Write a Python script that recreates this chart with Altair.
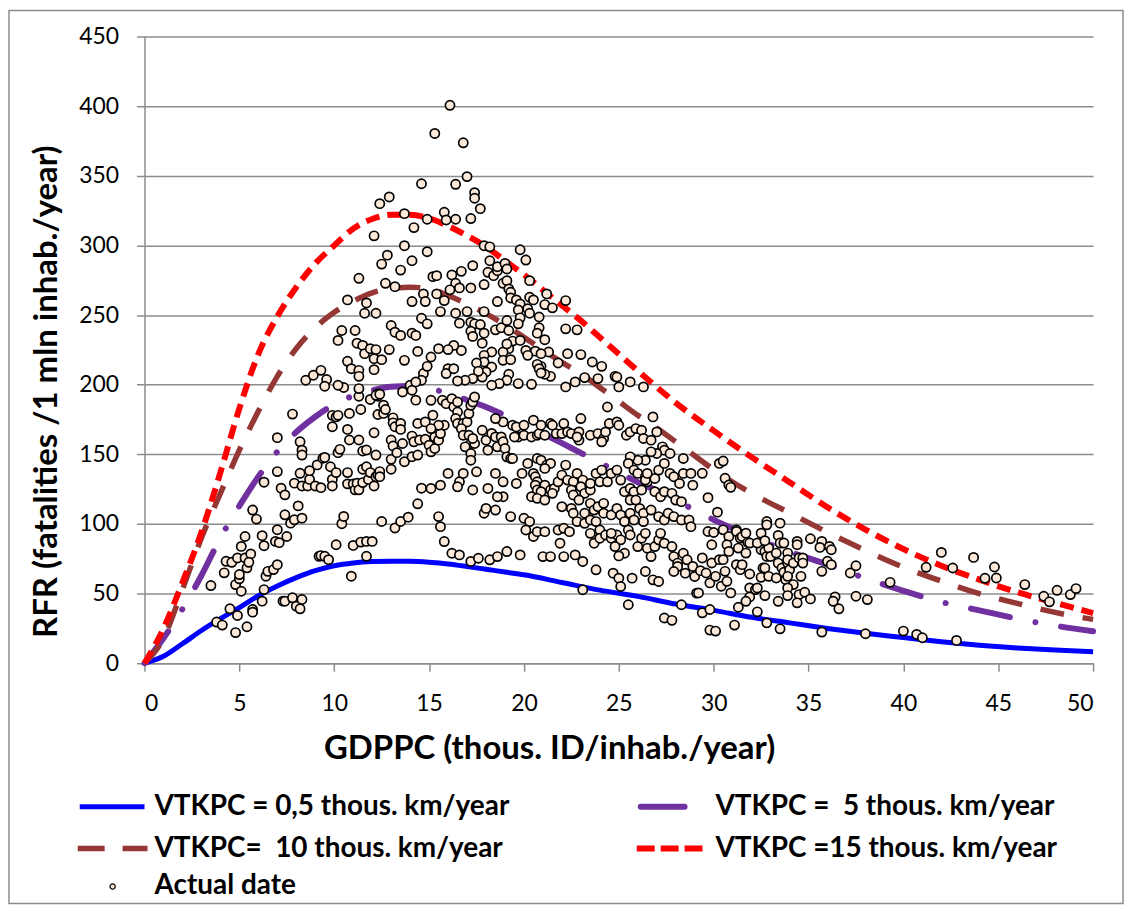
import altair as alt
import pandas as pd

# ---------------- model curves ----------------
curve_x_blue = [0,1,2,3,4,5,6,7,8,9,10,11,12,13,14,15,16,17,18,19,20,22,24,26,28,30,32,34,36,38,40,42,44,46,48,50]
curve_y_blue = [0,5,14,23.5,32,40,48.5,55.5,61.5,66.5,70,72,73,73.3,73.2,72.5,71.3,69.5,67.5,65.5,63.5,58,52.5,48,42.5,38,33,29,25,21.5,18.5,15.5,13,11,9.5,8.3]

curve_x_purple = [0,1,2,3,4,5,6,7,8,9,10,11,12,13,14,15,16,17,18,19,20,21,22,23,24,25,26,27,28,29,30,32,34,36,38,40,42,44,46,48,50]
curve_y_purple = [0,18,39,63,90,113,134,152,166,177,186,192,196,198.5,199,197,194,189,184,178,172,165,158,151,144,137,130,124,117,110,103,91,80,71,61,52,44,38,32,27,23]

curve_x_brown = [0,1,2,3,4,5,6,7,8,9,10,11,12,13,14,15,16,17,18,19,20,21,22,23,24,25,26,27,28,29,30,32,34,36,38,40,42,44,46,48,50]
curve_y_brown = [0,18,53,90,122,153,181,206,226,241,252,260,266,269,270,269,264,258,251,243,234,225,216,208,198,188,178,169,159,149,139,122,108,94,81,69,59,50,43,36.5,31.5]

curve_x_red = [0,1,2,3,4,5,6,7,8,9,10,11,12,13,14,15,16,17,18,19,20,21,22,23,24,25,26,28,30,32,34,36,38,40,42,44,46,48,50]
curve_y_red = [0,25,58,94,137,183,222,249,270,287,300,312,319,322,322,319.5,314,307,299,289,279,268,257,246,234,222,210,187,167,148,130,112,96,82,70,60,51,43.5,36]

# ---------------- actual data points ----------------
pts_a = [(3.5,55.8),(3.8,29.6),(4.1,27.4),(4.2,64.9),(4.3,73.2),(4.5,39.1),(4.6,72.5),(4.8,22.0),(4.8,56.5),(4.9,75.6),
(4.9,34.3),(5.0,60.6),(5.0,63.7),(5.1,83.9),(5.1,51.7),(5.3,91.0),(5.3,75.6),(5.4,26.2),(5.4,68.5),(5.6,78.5),
(5.5,72.5),(5.7,38.6),(5.7,36.7),(5.7,110.0),(5.9,103.5),(6.2,91.6),(6.2,44.6),(6.3,52.9),(6.3,84.4),(6.3,130.0),
(6.4,62.5),(6.5,66.0),(6.8,67.3),(6.9,87.5),(7.0,70.8),(7.0,95.9),(7.0,162.0),(7.0,137.6),(7.1,86.6),(7.2,125.7),
(7.3,44.6),(7.4,44.6),(7.4,106.6),(7.4,120.9),(7.5,91.0),(7.7,100.6),(7.8,47.0),(7.8,178.9),(7.9,129.3),(7.9,103.0),
(8.0,41.0),(8.1,113.0),(8.2,39.1),(8.2,159.0),(8.3,153.0),(8.3,149.5),(8.2,136.4),(8.3,104.2),(8.3,45.8),(8.3,127.3),
(8.6,127.3),(8.7,132.0),(8.7,138.3),(9.0,127.3),(9.1,142.4),(9.2,76.8),(9.3,77.3),(9.3,126.1),(9.4,147.2),(9.5,76.8),
(9.5,147.8),(9.7,74.4),(9.8,141.1),(9.9,132.0),(9.9,127.3),(9.9,169.8),(9.9,178.0),(10.1,85.1),(10.1,176.9),(10.1,136.9),
(10.2,178.0),(10.2,151.2),(10.3,153.6),(10.4,100.2),(10.5,105.4),(10.7,136.9),(10.7,128.8),(10.7,167.9),(10.8,160.3),(10.8,179.4),
(10.9,62.5),(11.0,84.6),(11.0,128.8),(11.1,124.5),(11.2,129.3),(11.3,160.3),(11.3,124.5),(11.3,191.7),(11.4,87.0),(11.5,129.7),
(11.4,182.2),(11.5,139.3),(11.5,152.4),(11.7,76.8),(11.7,87.5),(11.7,141.1),(11.7,153.1),(11.8,132.0),(11.9,189.4),(11.9,136.9),
(12.0,87.5),(12.1,165.5),(12.1,127.3),(12.2,134.0),(12.2,149.5),(12.3,193.6),(12.3,135.2),(12.3,191.7),(12.3,178.6),(12.4,137.6),
(12.4,134.0),(12.5,101.8),(12.6,179.4),(12.6,185.3),(12.7,182.2),(13.0,160.3),(13.0,146.4),(13.0,139.3),(13.1,176.2),(13.1,172.6),
(13.1,156.0),(13.2,97.1),(13.2,169.8),(13.3,151.2),(13.5,101.8),(13.5,172.2),(13.5,167.9),(13.6,194.8),(13.6,157.8),(13.7,144.7),
(13.9,104.9),(14.0,199.6),(14.1,163.1),(14.1,148.3),(14.2,159.0),(14.3,188.9),(14.4,172.2),(14.4,114.5),(14.5,160.3),(14.6,125.7),
(14.8,173.3),(14.8,160.8),(14.4,149.5),(10.5,198.0),(11.3,197.2),(12.2,192.4),(12.4,193.2),(14.1,196.0)]

pts_b = [(8.5,203.2),(8.9,206.8),(9.3,210.3),(9.6,203.7),(9.5,198.9),(10.2,199.6),(10.7,216.8),(10.9,211.5),(11.3,210.3),(11.3,206.0),
(12.1,210.8),(10.4,238.9),(10.2,231.8),(11.1,238.9),(11.2,229.8),(11.5,228.2),(11.6,222.3),(11.9,225.9),(12.1,218.7),(12.2,225.2),
(12.5,218.0),(12.9,225.2),(13.0,242.5),(13.2,237.7),(13.5,235.4),(13.7,217.5),(14.1,237.0),(14.3,235.4),(14.4,223.9),(14.6,247.7),
(14.9,243.7),(11.6,251.3),(12.2,251.3),(11.7,258.7),(10.7,260.9),(14.1,259.7),(14.7,265.2),(14.8,259.7),(12.7,272.8),(13.2,270.4),
(11.3,276.4),(12.5,286.6),(12.8,293.0),(13.5,282.3),(14.1,289.0),(13.7,299.8),(14.9,295.5),(12.1,306.9),(14.2,312.8),(13.7,322.8),
(12.4,330.0),(12.9,334.8),(14.6,344.3),(14.9,318.8),(14.7,208.0),(14.9,213.2),(14.6,203.2),(14.3,202.0)]

pts_c = [(16.1,400.6),(15.3,380.4),(16.8,373.7),(16.4,343.9),(17.0,349.4),(17.4,337.9),(17.4,333.9),(17.7,326.4),(15.8,323.8),(15.9,318.3),
(16.4,318.8),(17.2,319.3),(15.2,277.6),(15.4,278.3),(16.2,278.8),(16.7,281.4),(16.4,272.8),(16.6,269.5),(16.1,268.1),(17.2,269.5),
(17.3,285.5),(17.9,271.9),(17.9,299.8),(18.2,299.0),(18.2,289.0),(18.1,280.7),(18.4,278.3),(18.6,281.9),(18.6,284.7),(19.0,287.1),
(19.1,283.1),(18.9,272.8),(19.1,274.7),(19.2,268.8),(19.3,266.4),(19.3,262.3),(19.8,296.9),(20.1,289.5),(20.3,274.7),(19.6,260.9),
(19.8,258.0),(19.7,253.7),(19.8,248.0),(19.7,243.7),(20.3,262.8),(20.5,260.9),(20.2,254.5),(20.3,251.3),(20.8,248.6),(20.8,240.9),
(20.7,237.0),(21.1,232.3),(21.2,265.2),(21.1,257.5),(21.5,255.2),(22.2,260.4),(22.2,240.1),(22.8,239.4),(22.3,222.3),(23.0,221.6),
(23.6,216.3),(24.1,213.2),(24.8,206.0),(25.0,198.4),(23.9,204.4),(23.2,205.1),(22.7,202.0),(22.2,198.4),(21.4,206.0),(21.8,215.6),
(21.3,223.5),(20.2,222.3),(20.1,224.6),(19.7,200.8),(20.4,200.3),(19.2,207.5),(19.1,203.2),(18.7,200.8),(18.3,199.6),(15.4,265.2),
(15.8,260.4),(15.6,252.5),(16.4,251.3),(17.0,252.5),(17.9,252.5),(18.6,259.7),(16.6,244.2),(17.2,244.9),(17.4,243.7),(17.7,243.2),
(17.2,238.4),(17.3,234.7),(17.9,237.0),(17.8,229.8),(18.5,239.4),(18.8,240.9),(19.2,238.9),(19.1,246.1),(19.4,231.3),(19.8,231.8),
(19.2,225.9),(18.9,223.5),(18.9,217.5),(19.3,218.0),(18.3,223.5),(17.9,221.1),(17.9,216.3),(18.3,212.7),(18.0,209.2),(17.8,205.5),
(17.5,215.6),(17.6,209.6),(17.3,204.4),(16.9,203.2),(16.5,202.7),(16.7,224.6),(16.3,228.2),(16.0,225.2),(15.5,225.9),(15.1,219.9),
(16.0,211.5),(15.9,208.0),(16.3,211.5),(20.6,224.1),(20.9,222.3),(20.2,221.1),(20.9,213.2),(20.7,214.6),(21.1,207.5),(20.8,211.5),
(20.9,208.4),(19.1,229.3),(24.9,205.5),(24.4,184.0),(25.6,202.0),(26.3,198.4)]

pts_d = [(15.0,156.6),(15.1,151.8),(15.3,154.2),(15.3,162.5),(15.5,160.2),(15.6,164.9),(15.8,170.9),(15.5,170.9),(15.1,168.5),(15.2,178.1),
(15.1,188.8),(15.7,188.8),(15.9,186.4),(16.2,190.0),(16.3,184.0),(16.5,187.6),(16.5,180.4),(16.4,175.7),(16.5,172.1),(16.8,172.1),
(17.0,173.3),(16.7,168.5),(16.8,163.7),(17.1,163.7),(17.2,157.8),(16.9,155.4),(17.2,150.6),(17.2,145.8),(17.4,157.8),(17.3,161.4),
(17.1,179.3),(17.2,185.2),(17.3,187.6),(17.4,191.2),(17.8,167.3),(18.0,160.2),(18.1,153.0),(18.3,165.0),(18.5,162.5),(18.6,155.4),
(18.8,162.5),(18.9,159.0),(19.0,154.2),(19.1,148.2),(19.3,147.0),(19.4,147.0),(18.9,173.3),(18.5,175.7),(19.4,170.9),(19.6,169.7),
(19.7,162.5),(20.0,163.7),(20.0,170.9),(19.5,162.5),(20.4,162.5),(20.7,163.7),(20.8,164.9),(20.5,174.5),(20.9,170.9),(21.4,172.1),
(21.5,170.9),(21.1,163.7),(21.7,164.9),(22.0,164.9),(22.1,172.1),(22.3,166.1),(22.5,164.9),(22.9,166.1),(22.9,160.2),(22.8,162.5),
(23.0,175.7),(23.5,163.7),(23.9,164.9),(24.2,161.4),(24.1,159.0),(24.3,166.1),(24.5,172.1),(24.9,173.3),(25.0,170.9),(25.4,163.7),
(25.6,166.1),(25.9,168.5),(26.2,167.3),(26.3,161.4),(26.7,160.2),(27.0,166.1),(26.8,176.9),(27.3,155.4),(27.4,153.0),(27.7,150.6),
(27.0,150.6),(26.7,151.8),(26.4,145.8),(26.0,145.8),(25.6,148.2),(25.5,143.5),(25.8,138.7),(26.0,136.3),(26.4,133.9),(26.5,130.3),
(26.9,132.7),(27.1,138.7),(27.4,143.5),(27.7,136.3),(27.9,133.9),(28.2,129.1),(28.4,136.3),(28.8,136.3),(28.9,127.9),(28.4,147.0),
(16.0,136.3),(15.6,127.9),(15.1,125.5),(16.6,130.3),(16.8,136.3),(16.5,126.7),(17.3,124.4),(17.5,137.5),(18.1,125.5),(18.5,136.3),
(18.9,130.3),(18.9,119.6),(19.6,129.1),(19.9,136.3),(20.2,143.5),(20.5,136.3),(20.6,133.9),(20.7,147.0),(20.9,145.8),(21.2,142.3),
(21.4,143.5),(21.1,139.9),(20.7,130.3),(20.6,127.9),(21.1,127.9),(20.7,124.4),(20.9,123.2),(21.4,124.4),(21.6,125.5),(21.8,130.3),
(22.0,135.1),(22.2,142.3),(22.3,131.5),(22.6,130.3),(22.5,124.4),(22.6,120.8),(22.8,136.3),(23.1,131.5),(23.0,126.7),(23.2,122.0),
(23.5,124.4),(23.5,129.1),(23.8,136.3),(24.1,138.7),(24.0,130.3),(24.4,130.3),(24.6,136.3),(24.9,138.7),(25.1,131.5),(25.3,123.2),
(25.6,125.5),(25.8,123.2),(25.6,117.2),(25.9,117.2),(26.2,124.4),(26.4,131.5),(26.5,136.3),(26.9,123.2),(27.2,119.6),(27.4,123.2),
(27.8,122.0),(28.0,117.2),(28.3,116.0),(20.4,119.6),(20.7,118.4),(21.1,117.2),(21.5,122.0),(22.0,112.4),(22.5,111.2),(22.9,117.2),
(22.6,107.7),(23.2,107.7),(23.5,114.8),(23.7,110.0),(23.9,112.4),(24.2,114.8),(24.2,107.7),(24.6,106.5),(24.9,111.2),(25.1,106.5),
(25.3,101.7),(25.6,107.7),(25.8,102.9),(26.1,111.2),(26.3,107.7),(26.3,101.7),(26.7,110.0),(27.1,105.3),(27.4,102.9),(27.6,107.7),
(27.9,105.3),(28.3,102.9),(28.7,102.9),(28.8,98.1),(18.6,119.6),(17.9,107.7),(18.0,111.2),(18.5,110.0),(19.3,105.3),(20.0,104.1),
(20.3,101.7),(20.1,95.7),(20.5,91.0),(20.7,94.5),(21.1,94.5),(21.8,95.7),(22.1,96.9),(22.4,94.5),(22.8,101.7),(23.2,100.5),
(23.5,102.9),(23.8,101.7),(24.0,95.7),(23.5,93.3),(23.7,86.2),(24.0,89.8),(24.3,92.1),(24.6,89.8),(24.9,92.1),(25.1,88.6),
(25.3,79.0),(25.0,77.1),(24.8,83.8),(24.6,93.3),(25.5,95.7),(25.6,92.1),(26.0,83.8),(26.2,89.8),(26.4,93.3),(26.5,82.6),
(26.7,76.6),(26.9,83.8),(27.1,88.6),(27.2,93.3),(27.4,86.2),(27.8,83.8),(27.9,76.6),(28.1,71.9),(28.4,79.0),(28.6,74.3),
(28.9,69.5),(28.5,64.7),(29.0,62.3),(28.1,69.5),(27.9,65.9),(15.5,105.3),(15.6,98.1),(15.8,87.4),(16.2,79.0),(16.6,77.8),
(17.2,73.1),(17.6,75.4),(18.2,74.3),(18.6,76.6),(19.1,80.2),(19.8,77.8),(21.0,76.6),(21.4,76.6),(21.9,86.2),(22.1,76.6),
(22.7,77.8),(23.1,73.1),(23.1,52.8),(23.8,67.1),(24.7,64.7),(25.0,61.1),(25.1,55.1),(25.7,61.1),(26.4,65.9),(26.8,59.9),
(27.1,58.7),(25.5,42.0),(27.4,32.5),(27.8,30.8),(28.3,42.0),(29.1,50.4)]

pts_e = [(29.7,118.9),(30.2,108.5),(30.3,143.5),(30.5,145.2),(30.6,132.8),(30.8,128.0),(30.9,126.3),(29.4,136.4),
(29.7,94.6),(30.0,93.9),(29.9,85.1),(29.4,75.6),(29.3,66.5),(29.6,64.8),(29.8,57.7),(29.2,50.5),(29.4,36.2),(29.8,38.6),
(29.8,23.8),(30.1,23.1),(29.9,72.0),(30.3,74.4),(30.5,74.4),(30.6,66.0),(30.4,55.3),(30.7,58.8),(30.9,50.5),(30.1,62.4),
(30.5,95.8),(30.8,91.0),(30.7,85.1),(30.8,80.3),(31.2,95.8),(31.2,94.6),(31.3,82.7),(31.4,89.9),(31.5,91.0),(31.7,93.4),
(31.8,86.8),(31.7,79.1),(31.9,86.3),(31.2,70.8),(31.4,67.2),(31.5,70.8),(31.9,64.1),(31.9,54.1),(32.2,52.9),(32.3,54.1),
(31.9,47.6),(31.7,44.5),(31.3,40.2),(31.1,27.4),(32.3,36.9),(32.7,48.6),(32.8,29.0),(32.5,61.7),(32.6,68.4),(32.7,68.4),
(32.5,81.5),(32.7,80.3),(32.8,76.7),(32.9,82.7),(32.3,86.3),(32.5,93.4),(32.7,88.0),(32.8,101.8),(32.8,99.4),(32.9,62.4),
(33.3,61.2),(33.0,76.7),(33.3,79.1),(33.4,71.9),(33.5,100.6),(33.4,91.8),(33.5,86.3),(33.7,86.3),(33.6,68.4),(33.7,65.3),
(33.9,79.1),(33.9,71.9),(33.9,74.4),(34.0,67.2),(33.8,60.0),(33.9,62.4),(34.2,71.9),(34.2,56.5),(33.9,54.1),(33.9,48.6),
(33.4,44.5),(33.5,24.7),(34.4,87.5),(34.4,85.1),(34.5,75.6),(34.7,75.6),(34.7,71.9),(34.6,62.4),(34.5,49.3),(34.4,43.4),
(34.8,51.0),(35.1,46.2),(35.1,89.4),(35.7,87.5),(35.6,83.2),(36.1,83.9),(36.2,81.5),(36.0,73.2),(36.2,70.8),(35.7,66.0),
(36.4,47.6),(36.3,44.5),(36.6,39.1),(35.7,22.4),(37.2,64.8),(37.5,70.0),(37.5,48.1),(38.1,45.7),(38.0,21.2),(39.3,58.1),
(40.0,23.1),(40.7,20.7),(41.0,18.3),(41.2,68.9),(42.0,79.6),(42.6,68.4),(42.8,16.4),(43.7,76.0),(44.3,61.0),(44.8,69.1),
(44.9,61.2),(46.4,56.5),(47.4,48.1),(47.7,44.1),(48.1,52.4),(48.8,49.3),(49.1,53.6)]

legend_labels = ["VTKPC = 0,5 thous. km/year", "VTKPC =\u00a0 5 thous. km/year",
                 "VTKPC=\u00a0 10 thous. km/year", "VTKPC =15 thous. km/year", "Actual date"]
x_title = "GDPPC (thous. ID/inhab./year)"
y_title = "RFR (fatalities /1 mln inhab./year)"
x_ticks = list(range(0, 51, 5))
y_ticks = list(range(0, 451, 50))

FONT = "Lato"
GRAY = "#8c8c8c"

all_pts = pts_a + pts_b + pts_c + pts_d + pts_e
df_pts = pd.DataFrame(all_pts, columns=["x", "y"])

xs = alt.Scale(domain=[0, 50], nice=False, zero=False)
ys = alt.Scale(domain=[0, 450], nice=False, zero=False)

x_axis = alt.Axis(values=x_ticks, grid=False, domainColor=GRAY, domainWidth=1.5,
                  tickColor=GRAY, tickWidth=1.5, tickSize=8, labelFont=FONT,
                  labelFontSize=23, labelColor="#000", labelPadding=21,
                  titleFont=FONT, titleFontSize=33, titleFontWeight="bold",
                  titleColor="#000", titleX=406, titleY=86, titleBaseline="middle",
                  titleAlign="center")
y_axis = alt.Axis(values=y_ticks, grid=True, gridColor=GRAY, gridWidth=1.5,
                  domainColor=GRAY, domainWidth=1.5, tickColor=GRAY, tickWidth=1.5,
                  tickSize=8, labelFont=FONT, labelFontSize=23, labelColor="#000",
                  labelPadding=18, titleFont=FONT, titleFontSize=33,
                  titleFontWeight="bold", titleColor="#000", titleX=-98, titleY=356,
                  titleAngle=-90, titleBaseline="middle", titleAlign="center")

X = alt.X("x:Q", scale=xs, axis=x_axis, title=x_title)
Y = alt.Y("y:Q", scale=ys, axis=y_axis, title=y_title)


def curve(xv, yv, color, dash, width, cap):
    d = pd.DataFrame({"x": xv, "y": yv})
    kw = dict(color=color, strokeWidth=width, strokeCap=cap, interpolate="monotone")
    if dash:
        kw["strokeDash"] = dash
    return alt.Chart(d).mark_line(**kw).encode(x=X, y=Y)


blue = curve(curve_x_blue, curve_y_blue, "#0000ff", None, 5, "butt")
purple = curve(curve_x_purple, curve_y_purple, "#7030a0", [40, 26, 0.1, 26], 6, "round")
brown = curve(curve_x_brown, curve_y_brown, "#953735", [24, 19], 5.5, "butt")
red = curve(curve_x_red, curve_y_red, "#ff0000", [14, 8], 6, "butt")

points = alt.Chart(df_pts).mark_point(
    filled=True, fill="#fde9d9", stroke="#000000", strokeWidth=1.7, size=85, opacity=1
).encode(x=X, y=Y)

one = alt.Data(values=[{"k": 1}])


def leg_rule(x1, x2, y, color, dash, width, cap):
    kw = dict(color=color, strokeWidth=width, strokeCap=cap)
    if dash:
        kw["strokeDash"] = dash
    return alt.Chart(one).mark_rule(**kw).encode(x=alt.value(x1), x2=alt.value(x2), y=alt.value(y))


def leg_text(x, y, label):
    return alt.Chart(one).mark_text(align="left", baseline="middle", font=FONT, fontSize=28,
                                    fontWeight="bold", color="#000").encode(
        x=alt.value(x), y=alt.value(y), text=alt.value(label))


legend = [
    leg_rule(-65, 0, 773, "#0000ff", None, 5, "butt"),
    leg_text(10, 773, legend_labels[0]),
    leg_rule(498, 542, 773, "#7030a0", None, 6, "round"),
    leg_text(573, 773, legend_labels[1]),
    leg_rule(-67, 3, 815, "#953735", [27, 18], 5.5, "butt"),
    leg_text(10, 815, legend_labels[2]),
    leg_rule(494, 563, 815, "#ff0000", [18, 6], 6, "butt"),
    leg_text(573, 815, legend_labels[3]),
    alt.Chart(one).mark_point(filled=True, fill="#fde9d9", stroke="#000", strokeWidth=1.2,
                              size=28, opacity=1).encode(x=alt.value(-32), y=alt.value(853)),
    leg_text(10, 853, legend_labels[4]),
]

frame = alt.Chart(one).mark_rect(fillOpacity=0, stroke=GRAY, strokeWidth=1.5).encode(
    x=alt.value(-136), x2=alt.value(982), y=alt.value(-26), y2=alt.value(870))

chart = alt.layer(blue, purple, brown, red, points, frame, *legend).properties(
    width=952, height=629,
    autosize=alt.AutoSizeParams(type="none"),
    padding={"left": 137, "top": 27, "right": 31, "bottom": 243},
    background="white",
).configure_view(stroke=None)

chart.save("out.html", embed_options={"renderer": "svg", "actions": False})
